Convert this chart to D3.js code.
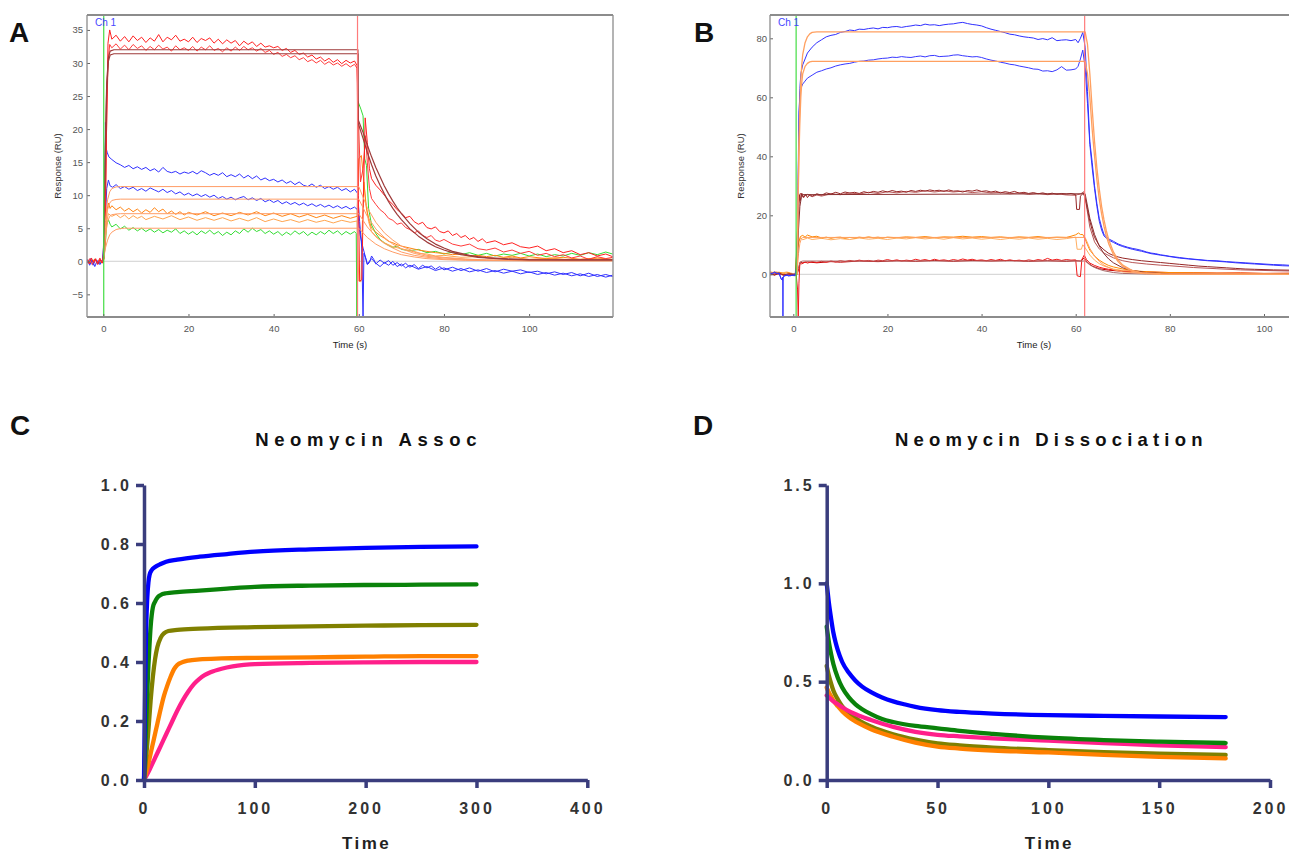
<!DOCTYPE html>
<html>
<head>
<meta charset="utf-8">
<script src="https://cdn.jsdelivr.net/npm/d3@7"></script>
<style>
body{margin:0;background:#fff;}
svg{display:block;font-family:"Liberation Sans",Arial,Helvetica,sans-serif;}
</style>
</head>
<body>
<script>
// ---- panel A : sensorgram traces (time s, response RU)
var aRed1 = [[-3.8,0.2],[-3.3,-0.4],[-2.8,0.5],[-2.3,-0.2],[-1.8,0.4],[-1.3,-0.5],[-0.8,0.3],[-0.3,-0.3],[0.2,0.4],[0.5,6],[0.8,22],[1.1,33],[1.5,35],[2,33.6],[3,34.2],[4,33.3],[5,34],[6,33.2],[7,34.1],[8,33.4],[9,33.9],[10,33.1],[11,33.8],[12,33.3],[13,34.3],[14,33.2],[15,33.9],[16,33.5],[17,34.2],[18,33.3],[19,33.6],[20,33.2],[21,33.9],[22,33.1],[23,33.7],[24,33.4],[25,33.8],[26,33],[27,33.6],[28,32.9],[29,33.5],[30,33],[31,33.4],[32,32.6],[33,33.3],[34,32.8],[35,33.2],[36,32.5],[37,33],[38,32.4],[39,32.6],[40,32.3],[41,32.5],[42,31.9],[43,32.2],[44,31.6],[45,31.9],[46,31.3],[47,31.5],[48,30.9],[49,31.2],[50,30.6],[51,30.9],[52,30.3],[53,30.7],[54,30.1],[55,30.5],[56,29.9],[57,30.4],[58,30],[59,30.3],[59.6,29.6],[59.9,10],[60.2,-3],[60.7,-2.8],[61.1,10],[61.5,21.7],[62,18],[62.5,14],[63,12.5],[64,11.5],[65,10.8],[66,10],[67,9.2],[68,8.6],[69,7.8],[70,7.3],[71,6.6],[72,6.8],[73,6],[74,5.6],[75,5.9],[76,5.1],[77,4.9],[78,5.2],[79,4.5],[80,4.3],[81,4.6],[82,3.9],[83,4.2],[84,3.6],[85,3.9],[86,3.3],[87,3.6],[88,3],[89,3.4],[90,2.8],[92,3.1],[94,2.5],[96,2.8],[98,2.2],[100,2],[102,2.3],[104,1.6],[106,1.9],[108,1.3],[110,1.6],[112,1],[114,1.3],[116,0.8],[118,1.1],[119.6,0.7]];
var aRed2 = [[-3.8,-0.2],[-3.2,0.4],[-2.6,-0.5],[-2,0.3],[-1.4,-0.3],[-0.8,0.5],[-0.3,-0.2],[0.3,2],[0.7,18],[1.1,30],[1.5,32.8],[2,32.3],[3,32.9],[4,32.1],[5,32.7],[6,32],[7,32.8],[8,32.2],[9,32.6],[10,31.9],[11,32.5],[12,32],[13,32.7],[14,32.1],[15,32.4],[16,31.8],[17,32.6],[18,32],[19,32.3],[20,31.9],[21,32.5],[22,31.8],[23,32.4],[24,32],[25,32.6],[26,31.9],[27,32.2],[28,31.7],[29,32.3],[30,31.8],[31,32.4],[32,31.9],[33,32.5],[34,32],[35,32.3],[36,31.8],[37,32.2],[38,31.6],[39,31.9],[40,31.3],[41,31.6],[42,31],[43,31.3],[44,30.8],[45,31.1],[46,30.5],[47,30.8],[48,30.2],[49,30.5],[50,30],[51,30.4],[52,29.8],[53,30.2],[54,29.7],[55,30],[56,29.5],[57,29.9],[58,29.4],[59,29.8],[59.6,29.2],[60,20],[60.4,12],[61,14],[61.6,19],[62,15],[62.5,11],[63,9.5],[64,8.6],[65,7.8],[66,7.3],[67,6.5],[68,6.2],[69,5.6],[70,5.8],[71,5.1],[72,4.8],[73,4.3],[74,4.6],[75,3.9],[76,3.6],[77,3.9],[78,3.2],[79,3],[80,3.3],[82,2.6],[84,2.3],[86,2.6],[88,1.9],[90,1.7],[92,2],[94,1.4],[96,1.7],[98,1.2],[100,1.5],[102,0.9],[104,1.2],[106,0.7],[108,1],[110,0.5],[112,0.8],[114,0.3],[116,0.7],[118,0.4],[119.6,0.6]];
var aBlue1 = [[-3.8,0.3],[-3.2,-0.6],[-2.6,0.2],[-2,-0.8],[-1.4,0.1],[-0.8,-0.5],[-0.2,0.2],[0.3,4],[0.5,21],[0.7,17],[0.9,16.5],[1.3,15.8],[2,15.4],[3,14.9],[4,14.6],[5,14.2],[6,14.5],[7,14],[8,14.3],[9,13.9],[10,14.2],[11,13.7],[12,14],[13,13.5],[14,14.2],[15,13.6],[16,13.4],[17,13.6],[18,13.2],[19,13.5],[20,13.3],[21,13.6],[22,13.2],[23,13.7],[24,13.4],[25,13],[26,13.3],[27,13],[28,13.4],[29,12.8],[30,13.1],[31,12.8],[32,13.2],[33,12.6],[34,13],[35,12.5],[36,12.9],[37,12.3],[38,12.6],[39,12.2],[40,12.4],[41,12],[42,12.3],[43,11.8],[44,12.1],[45,11.6],[46,12],[47,11.5],[48,11.3],[49,11.7],[50,11.2],[51,11.5],[52,11],[53,11.3],[54,10.9],[55,11.2],[56,10.7],[57,11],[58,10.5],[59,10.9],[59.7,10.3],[60.2,6],[60.7,2],[61,-9],[61.2,1.2],[61.6,0.5],[62,-0.5],[62.5,-0.2],[63,0.8],[63.5,0.3],[64,-0.4],[65,0.2],[66,-0.3],[67,0.1],[68,-0.6],[69,-0.2],[70,-0.7],[71,-0.3],[72,-0.9],[73,-0.5],[74,-1.1],[75,-0.6],[76,-1],[77,-0.7],[78,-1.2],[79,-0.8],[80,-1.3],[82,-0.9],[84,-1.4],[86,-1],[88,-1.5],[90,-1.1],[92,-1.6],[94,-1.2],[96,-1.5],[98,-1.3],[100,-1.7],[102,-1.5],[104,-1.9],[106,-1.6],[108,-2],[110,-1.7],[112,-2.2],[114,-1.8],[116,-2.3],[118,-2],[119.6,-2.3]];
var aBlue2 = [[-3.8,-0.3],[-3,0.4],[-2.4,-0.6],[-1.8,0.3],[-1.2,-0.4],[-0.6,0.2],[-0.1,-0.2],[0.4,5],[0.8,11],[1.2,12.3],[1.6,11.4],[2.2,11.2],[3,11.6],[4,11],[5,11.3],[6,10.9],[7,11.2],[8,10.7],[9,11],[10,10.6],[11,11.1],[12,10.8],[13,10.5],[14,10.9],[15,10.4],[16,10.7],[17,10.2],[18,10.5],[19,10],[20,10.3],[21,9.9],[22,10.2],[23,9.8],[24,10.1],[25,9.7],[26,10],[27,9.5],[28,9.8],[29,9.4],[30,9.7],[31,9.3],[32,9.6],[33,9.8],[34,9.3],[35,9.6],[36,9.2],[37,9.5],[38,9],[39,9.3],[40,8.9],[41,9.2],[42,8.7],[43,9],[44,8.6],[45,8.9],[46,8.5],[47,8.8],[48,8.4],[49,8.7],[50,8.3],[51,8.6],[52,8.2],[53,8.5],[54,8.1],[55,8.4],[56,8],[57,8.3],[58,7.9],[59,8.2],[59.7,7.8],[60.3,4],[61,2],[61.5,0.8],[62,-0.4],[63,0.4],[64,-0.3],[65,-0.8],[66,-0.2],[67,-0.6],[68,0],[69,-0.8],[70,-0.4],[71,-1],[72,-0.6],[74,-1.2],[76,-0.8],[78,-1.4],[80,-1],[82,-1.5],[84,-1.1],[86,-1.6],[88,-1.3],[90,-1.7],[92,-1.4],[94,-1.8],[96,-1.5],[98,-1.9],[100,-1.6],[102,-2],[104,-1.7],[106,-2.1],[108,-1.8],[110,-2.2],[112,-1.9],[114,-2.3],[116,-2],[118,-2.4],[119.6,-2.1]];
var aOrange1 = [[-3.8,0.1],[-3,-0.3],[-2,0.3],[-1,-0.2],[0,0.1],[0.4,3],[0.8,7.5],[1.2,8.8],[1.6,8],[2,8.4],[3,7.8],[4,8.2],[5,7.6],[6,8],[7,7.5],[8,7.9],[9,7.3],[10,7.8],[11,7.4],[12,8.1],[13,7.5],[14,7.9],[15,7.2],[16,7.6],[17,7.1],[18,7.5],[19,7],[20,7.4],[22,7],[24,7.5],[26,6.9],[28,7.3],[30,6.9],[32,7.4],[34,7],[36,7.5],[38,6.9],[40,7.3],[42,6.8],[44,7.2],[46,6.7],[48,7.1],[50,6.6],[52,7],[54,6.5],[56,6.9],[58,6.5],[59.6,6.8],[60,15.5],[60.6,16],[61.2,12],[61.8,8],[62.5,6],[63,5],[64,4.4],[65,3.9],[66,3.5],[67,3],[68,2.8],[69,2.5],[70,2.3],[72,2],[74,1.7],[76,1.5],[78,1.3],[80,1.2],[82,1],[84,1.1],[86,0.8],[88,0.9],[90,0.7],[92,0.9],[94,0.6],[96,0.8],[98,0.5],[100,0.7],[104,0.4],[108,0.6],[112,0.3],[116,0.5],[119.6,0.3]];
var aOrange2 = [[-3.8,-0.2],[-2.8,0.3],[-1.8,-0.3],[-0.8,0.2],[0,-0.1],[0.4,2],[0.8,6],[1.2,7.2],[2,6.8],[3,7.1],[4,6.6],[5,7],[6,6.4],[7,6.9],[8,6.5],[9,6.8],[10,6.3],[12,6.8],[14,6.4],[16,6.9],[18,6.3],[20,6.7],[22,6.2],[24,6.6],[26,6.2],[28,6.6],[30,6.1],[32,6.5],[34,6.1],[36,6.6],[38,6],[40,6.4],[42,6],[44,6.3],[46,5.9],[48,6.3],[50,5.9],[52,6.2],[54,5.8],[56,6.2],[58,5.9],[59.6,6.1],[60,-3],[60.5,-3.1],[60.8,5],[61.2,12],[61.6,9],[62.3,6],[63,4.5],[64,3.8],[65,3.2],[66,2.8],[68,2.2],[70,1.9],[72,1.6],[74,1.2],[76,1.1],[78,0.8],[80,0.9],[84,0.6],[88,0.7],[92,0.4],[96,0.6],[100,0.3],[105,0.5],[110,0.2],[115,0.4],[119.6,0.2]];
var aGreen = [[-3.8,0.2],[-3,-0.2],[-2,0.3],[-1,-0.3],[0,0.1],[0.4,2],[0.8,5.5],[1.2,6.3],[1.6,5.6],[2,5.2],[3,5.6],[4,4.9],[5,5.3],[6,4.7],[7,5.1],[8,4.6],[9,5],[10,4.5],[11,4.9],[12,4.4],[13,4.8],[14,4.3],[15,4.7],[16,4.4],[17,4.9],[18,4.2],[19,4.6],[20,4.1],[21,4.5],[22,4],[23,4.6],[24,4.2],[25,4.7],[26,4.1],[27,4.5],[28,3.9],[29,4.4],[30,4],[31,4.6],[32,4.2],[33,4.9],[34,4.4],[35,5],[36,4.5],[37,4.8],[38,4.2],[39,4.6],[40,4.1],[41,4.5],[42,3.9],[43,4.4],[44,4],[45,4.6],[46,4.1],[47,4.5],[48,3.9],[49,4.4],[50,4],[51,4.5],[52,4.1],[53,4.7],[54,4.2],[55,4.6],[56,4],[57,4.5],[58,4.1],[59,4.5],[59.4,4.2],[59.55,-9],[59.8,24.2],[60.5,23],[61,22],[61.4,15.5],[61.8,14.5],[62.3,8],[63,5.5],[64,4.2],[65,3.3],[66,2.8],[67,2.4],[68,2.1],[69,2.3],[70,1.8],[72,1.6],[74,1.8],[76,1.3],[78,1.5],[80,1.1],[82,1.4],[84,1],[86,1.3],[88,0.9],[90,1.2],[92,0.8],[94,1.1],[96,0.9],[98,1.2],[100,0.8],[102,1.1],[104,0.7],[106,1],[108,0.8],[110,1.2],[112,0.9],[114,1.3],[116,1],[118,1.4],[119.6,1.1]];
// panel A : fitted curves
var aFitR1 = [[0,0],[0.4,15],[0.8,27],[1.2,30.8],[1.6,31.8],[2.5,32],[59.8,32],[59.8,21.5],[61,19.5],[62,17.6],[63,15.8],[64,14.2],[65,12.8],[66,11.4],[67,10.2],[68,9.1],[69,8.1],[70,7.2],[72,5.7],[74,4.4],[76,3.4],[78,2.6],[80,2],[82,1.5],[84,1.2],[86,0.9],[88,0.7],[90,0.55],[95,0.35],[100,0.25],[110,0.2],[119.6,0.2]];
var aFitR2 = [[0,0],[0.4,14],[0.8,26],[1.2,30.3],[1.6,31.2],[2.5,31.4],[59.8,31.4],[59.8,21],[61,18.6],[62,16.5],[63,14.6],[64,12.9],[65,11.5],[66,10.2],[67,9],[68,8],[69,7.1],[70,6.3],[72,4.9],[74,3.8],[76,2.9],[78,2.2],[80,1.7],[82,1.3],[84,1],[86,0.8],[88,0.6],[90,0.5],[95,0.3],[100,0.2],[110,0.2],[119.6,0.2]];
var aFitO1 = [[0,0],[0.5,6],[1,9.3],[1.5,10.5],[2,11],[3,11.25],[4,11.3],[60,11.3],[62,8.1],[64,5.9],[66,4.3],[68,3.2],[70,2.3],[73,1.5],[76,0.9],[80,0.6],[85,0.35],[90,0.2],[100,0.1],[119.6,0.1]];
var aFitO2 = [[0,0],[0.5,5],[1,7.8],[1.5,8.8],[2,9.2],[3,9.35],[4,9.4],[60,9.4],[62,6.8],[64,4.9],[66,3.6],[68,2.6],[70,1.9],[73,1.2],[76,0.75],[80,0.5],[85,0.3],[90,0.2],[100,0.1],[119.6,0.1]];
var aFitO3 = [[0,0],[0.5,3.8],[1,6],[1.5,6.8],[2,7.05],[3,7.15],[4,7.2],[60,7.2],[62,5.2],[64,3.7],[66,2.7],[68,2],[70,1.4],[73,0.9],[76,0.6],[80,0.35],[85,0.2],[90,0.15],[100,0.1],[119.6,0.1]];
var aFitO4 = [[0,0],[0.5,2],[1,3.2],[1.5,4],[2,4.4],[3,4.8],[4,4.95],[5,5],[60,5],[62,3.6],[64,2.6],[66,1.9],[68,1.4],[70,1],[73,0.65],[76,0.4],[80,0.25],[85,0.15],[90,0.1],[100,0.05],[119.6,0.05]];
var aInject = [0.1, 59.7];
var aTicksX = [0,20,40,60,80,100];
var aTicksY = [-5,0,5,10,15,20,25,30,35];

// ---- panel B : sensorgram traces
var bBlue1 = [[-4.9,0.5],[-4.4,0.2],[-4,0.8],[-3.5,0.3],[-3,0.5],[-2.6,-1.5],[-2.3,-2],[-2.25,-1],[-2.2,-15],[-2.15,-1],[-1.8,-0.5],[-1.2,-0.3],[-0.6,-0.5],[0,-0.2],[0.5,-0.4],[0.8,2],[1,25],[1.2,50],[1.4,63],[1.6,68],[2,71],[2.5,73],[3,75],[4,77],[5,78.5],[6,79.5],[7,80.5],[8,81],[9,81.3],[10,82],[11,82.3],[12,82.8],[13,82.6],[14,83.1],[15,83],[16,83.3],[17,83.5],[18,83.2],[19,83.7],[20,83.6],[21,83.9],[22,84],[23,83.7],[24,84],[25,84.2],[26,84.5],[27,84.3],[28,84.8],[29,84.5],[30,84.6],[31,84.3],[32,84.6],[33,84.8],[34,84.9],[35,85.2],[36,85.4],[37,85],[38,84.7],[39,84.5],[40,84.2],[41,83.6],[42,83.1],[43,82.7],[44,82.3],[45,81.9],[46,81.4],[47,81.2],[48,80.8],[49,80.5],[50,80.3],[51,80.1],[52,79.6],[53,79.9],[54,79.5],[55,80.2],[56,79.2],[57,79.4],[58,79.5],[59,79.2],[60,79.6],[60.5,78.5],[61,80],[61.5,82],[62,77],[62.5,62],[63,45],[63.5,38],[64,30],[64.5,24],[65,19],[65.5,16],[66,13.5],[67,12],[68,11.2],[69,10.3],[70,9.7],[71,9.2],[72,8.8],[73,8.5],[74,8.1],[75,7.6],[76,7.2],[77,7],[78,6.6],[79,6.4],[80,6.1],[82,5.7],[84,5.3],[86,5],[88,4.7],[90,4.6],[92,4.3],[94,4.1],[96,3.9],[98,3.7],[100,3.5],[102,3.3],[104,3.2],[106,3]];
var bBlue2 = [[-4.9,0.2],[-4,0.6],[-3,0.1],[-2.5,-1.8],[-2,-0.6],[-1.5,-0.2],[-1,-0.6],[-0.4,-0.3],[0.3,-0.5],[0.8,3],[1,30],[1.2,55],[1.4,61],[1.6,63],[2,64.5],[2.5,65.5],[3,66.5],[4,67.5],[5,68.5],[6,69],[7,69.6],[8,70],[9,70.6],[10,71],[11,71.3],[12,71.5],[13,71.9],[14,72.2],[15,72.3],[16,72.6],[17,72.7],[18,73],[19,73.2],[20,73.3],[21,73.6],[22,73.5],[23,73.8],[24,73.6],[25,73.5],[26,73.8],[27,74],[28,73.7],[29,74.1],[30,74.2],[31,73.8],[32,73.9],[33,74],[34,74.3],[35,74.4],[36,74.1],[37,73.9],[38,73.7],[39,73.8],[40,73.5],[41,73],[42,72.6],[43,72.3],[44,71.9],[45,71.6],[46,71.2],[47,71],[48,70.6],[49,70.3],[50,70],[51,69.6],[52,69.5],[53,68.9],[54,69],[55,68.7],[56,69.3],[57,70.4],[58,69.2],[59,69.3],[60,69.6],[60.5,70.5],[61,73],[61.5,76],[62,70],[62.5,58],[63,44],[63.5,36],[64,29],[64.5,23],[65,18],[65.5,15],[66,13],[67,11.6],[68,10.8],[69,10],[70,9.4],[72,8.5],[74,7.8],[76,7],[78,6.5],[80,6],[82,5.5],[84,5.2],[86,4.9],[88,4.6],[90,4.4],[92,4.2],[94,3.9],[96,3.7],[98,3.5],[100,3.3],[102,3.1],[104,2.9],[106,2.8]];
var bBrown1 = [[-4.9,0.3],[-4,-0.3],[-3,0.4],[-2,-0.2],[-1,0.2],[0,-0.1],[0.5,0],[0.7,8],[0.9,15],[1.1,22],[1.3,27],[1.5,25],[1.8,27.5],[2.2,26],[2.6,27.2],[3,26],[3.5,27],[4,26.5],[5,27.3],[6,26.8],[7,27.6],[8,27.2],[9,27.8],[10,27.3],[11,27.9],[12,27.5],[13,27.8],[14,27.4],[15,28],[16,27.6],[17,28.1],[18,27.8],[19,28.3],[20,27.9],[21,28.4],[22,28],[23,28.2],[24,27.8],[25,28.4],[26,28.1],[27,28.5],[28,28.2],[29,28.6],[30,28.3],[31,28.5],[32,28.1],[33,28.6],[34,28.2],[35,28.3],[36,27.9],[37,28.4],[38,28.2],[39,28.6],[40,28.1],[41,28.3],[42,27.9],[43,28.2],[44,27.6],[45,28],[46,27.7],[47,28.1],[48,27.5],[49,27.8],[50,27.4],[51,27.7],[52,27.3],[53,27.6],[54,27.2],[55,27.5],[56,27.1],[57,27.4],[58,27.2],[59,27.4],[60,27],[60.2,22],[60.8,22],[61,26.5],[61.6,27.5],[62,26],[62.5,22],[63,18],[63.5,15],[64,12.5],[65,9.8],[66,8.3],[67,7.1],[68,6.4],[69,5.9],[70,5.5],[72,5],[74,4.6],[76,4.3],[78,4],[80,3.7],[82,3.4],[84,3.1],[86,2.8],[88,2.6],[90,2.4],[92,2.2],[94,2],[96,1.8],[98,1.7],[100,1.6],[102,1.5],[106,1.4]];
var bBrown2 = [[-4.9,-0.2],[-3.5,0.3],[-2,-0.3],[-0.5,0.2],[0.6,0],[0.9,12],[1.2,24],[1.5,27.5],[2,26.2],[3,27.1],[4,26.3],[5,26.9],[6,26.5],[8,27.3],[10,27],[12,27.6],[14,27.2],[16,27.8],[18,27.4],[20,28],[22,27.6],[24,28.1],[26,27.8],[28,28.3],[30,27.9],[32,28.3],[34,27.9],[36,28.2],[38,27.7],[40,28],[42,27.6],[44,27.8],[46,27.3],[48,27.6],[50,27.1],[52,27.4],[54,27],[56,27.3],[58,26.9],[60,26.8],[60.3,27],[61,27.2],[61.7,28],[62.2,24],[63,16],[64,11],[65,8.6],[66,7.2],[68,5.6],[70,4.6],[72,4],[75,3.5],[78,3.1],[80,2.9],[85,2.3],[90,1.9],[95,1.5],[100,1.3],[106,1.1]];
var bOrange1 = [[-4.9,0.8],[-4,0.5],[-3,0.7],[-2,0.3],[-1,0.6],[0,-0.3],[0.4,-0.4],[0.6,5],[0.9,9],[1.2,11],[1.5,12.8],[2,13.2],[2.5,12.6],[3,13.3],[4,12.7],[5,12.9],[6,12.3],[7,12.6],[8,12.2],[9,12.5],[10,12.6],[11,12.2],[12,12.5],[13,12.3],[14,12.6],[15,12.4],[16,12.7],[17,12.4],[18,12.6],[19,12.3],[20,12.6],[22,12.4],[24,12.7],[26,12.5],[28,12.8],[30,12.4],[32,12.7],[34,12.6],[36,12.9],[38,12.6],[40,12.8],[42,12.5],[44,12.7],[46,12.4],[48,12.7],[50,12.5],[52,12.8],[54,12.4],[56,12.6],[58,12.5],[59,12.9],[60,13.4],[60.6,14],[61,13.5],[61.5,13.5],[62,12],[62.5,10],[63,8.2],[64,6.2],[65,4.8],[66,3.8],[67,3],[68,2.5],[70,1.8],[72,1.3],[74,1],[76,0.8],[80,0.6],[85,0.5],[90,0.4],[95,0.4],[100,0.3],[106,0.3]];
var bOrange2 = [[-4.9,0.4],[-3.8,0.9],[-2.6,0.4],[-1.4,0.8],[-0.2,0.3],[0.5,0],[0.8,6],[1.2,11.5],[1.6,12.4],[2,11.7],[3,12.3],[4,11.8],[6,12.2],[8,11.7],[10,12.1],[12,11.8],[14,12.3],[16,11.9],[18,12.2],[20,11.8],[22,12.3],[24,12],[26,12.4],[28,12],[30,12.3],[32,11.9],[34,12.4],[36,12],[38,12.3],[40,11.9],[42,12.2],[44,11.8],[46,12.2],[48,11.9],[50,12.3],[52,11.9],[54,12.2],[56,11.8],[58,12.1],[60,12.6],[60.3,8.5],[61.2,8.5],[61.5,10],[62,9],[63,6.5],[64,4.8],[65,3.6],[66,2.8],[68,1.8],[70,1.3],[74,0.8],[80,0.5],[90,0.3],[106,0.2]];
var bRed1 = [[-4.9,0.2],[-4,-0.2],[-3,0.3],[-2,-0.3],[-1,0.1],[0,-0.2],[0.6,0.2],[0.9,-5],[1.05,-15],[1.2,-3],[1.4,4],[1.8,3.5],[2.5,4.2],[3,3.8],[4,4.3],[5,4],[6,4.4],[7,4.1],[8,4.5],[9,4.2],[10,4.6],[11,4.3],[12,4.7],[13,4.4],[14,4.8],[15,4.5],[16,4.7],[17,4.4],[18,4.8],[19,4.6],[20,5],[21,4.6],[22,4.9],[23,4.5],[24,4.8],[25,4.6],[26,5.1],[27,4.7],[28,5],[29,4.6],[30,5.1],[31,4.7],[32,4.9],[33,4.6],[34,5],[35,4.7],[36,5.2],[37,4.8],[38,5.1],[39,4.7],[40,4.9],[41,4.6],[42,5],[43,4.7],[44,5.1],[45,4.6],[46,4.9],[47,4.6],[48,4.8],[49,4.5],[50,4.9],[51,4.6],[52,5],[53,4.7],[54,5.4],[55,4.8],[56,5.1],[57,4.7],[58,5],[59,4.8],[60,4.9],[60.3,-0.5],[61,-0.8],[61.3,5],[61.8,6.5],[62.3,5],[63,3.8],[64,3],[65,2.4],[66,2],[67,1.7],[68,1.5],[70,1.2],[72,1],[75,0.8],[80,0.6],[85,0.5],[90,0.4],[95,0.5],[100,0.3],[106,0.4]];
var bRed2 = [[-4.9,-0.1],[-3.5,0.2],[-2,-0.2],[-0.5,0.1],[0.8,0],[1.2,2],[1.5,4.2],[2,3.9],[3,4.2],[5,3.9],[8,4.3],[10,4.1],[14,4.5],[18,4.3],[22,4.6],[26,4.4],[30,4.7],[34,4.4],[38,4.7],[42,4.5],[46,4.7],[50,4.4],[54,4.6],[58,4.4],[60,4.6],[61,4.5],[61.8,5.5],[62.5,4],[63.5,2.8],[65,1.9],[67,1.4],[70,1],[75,0.7],[80,0.5],[90,0.3],[106,0.2]];
// panel B : fitted curves
var bFitHi = [[0.8,0],[1,25],[1.2,45],[1.4,58],[1.6,66],[1.8,71],[2,74.5],[2.5,78.5],[3,80.5],[3.5,81.5],[4,82],[5,82.2],[62,82.2],[62.5,78],[63,68],[63.5,56],[64,45],[64.5,36],[65,29],[65.5,23],[66,18.5],[66.5,14.8],[67,11.8],[68,7.6],[69,4.9],[70,3.1],[72,1.3],[74,0.5],[78,0.1],[106,0]];
var bFitLo = [[0.8,0],[1,22],[1.2,40],[1.4,52],[1.6,60],[1.8,65],[2,68],[2.5,70.5],[3,71.5],[3.5,72],[4,72.2],[62,72.2],[62.5,68],[63,60],[63.5,49],[64,40],[64.5,32],[65,25.5],[65.5,20.5],[66,16.3],[66.5,13],[67,10.4],[68,6.7],[69,4.3],[70,2.7],[72,1.1],[74,0.45],[78,0.1],[106,0]];
var bFitBrown = [[0.8,0],[1.1,15],[1.4,23],[1.7,26],[2,27],[62,27.3],[63,19],[64,13.5],[65,9.6],[66,7],[67,5.2],[68,3.9],[70,2.2],[72,1.3],[75,0.6],[80,0.2],[106,0]];
var bFitOrange = [[0.8,0],[1.1,7],[1.4,10.5],[1.7,12],[2,12.5],[62,12.5],[63,8.8],[64,6.2],[65,4.4],[66,3.1],[68,1.6],[70,0.8],[75,0.2],[106,0]];
var bFitRed = [[0.8,0],[1.2,3],[1.6,4.3],[2,4.5],[62,4.5],[63,3.2],[64,2.3],[65,1.7],[66,1.2],[68,0.6],[70,0.3],[75,0.1],[106,0]];
var bInject = [0.6, 61.9];
var bTicksX = [0,20,40,60,80,100];
var bTicksY = [0,20,40,60,80];

// ---- panel C : Neomycin Assoc (time, normalised response)
var cBlue = [[0,0],[0.5,0.15],[1,0.3],[1.5,0.42],[2,0.52],[3,0.62],[4,0.67],[5,0.695],[7,0.712],[10,0.722],[15,0.732],[20,0.74],[30,0.747],[50,0.757],[75,0.766],[100,0.774],[150,0.782],[200,0.787],[250,0.79],[300,0.792]];
var cGreen = [[0,0],[1,0.1],[2,0.2],[3,0.3],[4,0.39],[5,0.46],[6,0.52],[7,0.56],[8,0.585],[10,0.605],[12,0.618],[15,0.627],[20,0.633],[30,0.637],[50,0.642],[75,0.649],[100,0.655],[150,0.659],[200,0.661],[250,0.662],[300,0.663]];
var cOlive = [[0,0],[2,0.08],[4,0.17],[6,0.27],[8,0.35],[10,0.41],[12,0.45],[15,0.482],[18,0.497],[22,0.505],[30,0.509],[50,0.513],[100,0.518],[150,0.521],[200,0.523],[250,0.525],[300,0.526]];
var cOrange = [[0,0],[3,0.04],[6,0.09],[9,0.14],[12,0.19],[15,0.24],[18,0.285],[21,0.32],[24,0.35],[27,0.375],[30,0.39],[35,0.4],[40,0.405],[50,0.409],[70,0.412],[100,0.414],[150,0.416],[200,0.418],[250,0.42],[300,0.42]];
var cPink = [[0,0],[5,0.035],[10,0.075],[15,0.115],[20,0.155],[25,0.195],[30,0.235],[35,0.27],[40,0.3],[45,0.325],[50,0.343],[55,0.356],[60,0.365],[70,0.377],[80,0.385],[90,0.39],[100,0.393],[150,0.397],[200,0.399],[250,0.4],[300,0.4]];
var cTicksX = [0,100,200,300,400];
var cTicksY = [0,0.2,0.4,0.6,0.8,1.0];

// ---- panel D : Neomycin Dissociation
var dBlue = [[0,1],[1,0.9],[2,0.82],[3,0.75],[4,0.7],[5,0.66],[7,0.6],[10,0.545],[13,0.505],[16,0.475],[20,0.447],[25,0.42],[30,0.4],[35,0.385],[40,0.372],[50,0.355],[60,0.346],[75,0.338],[100,0.33],[125,0.326],[150,0.323],[180,0.32]];
var dGreen = [[0,0.78],[1,0.7],[2,0.64],[3,0.59],[5,0.52],[7,0.47],[10,0.42],[13,0.385],[16,0.36],[20,0.335],[25,0.31],[30,0.295],[40,0.275],[50,0.263],[60,0.25],[75,0.235],[100,0.215],[125,0.203],[150,0.195],[180,0.188]];
var dOlive = [[0,0.58],[1,0.53],[2,0.49],[3,0.455],[5,0.41],[7,0.375],[10,0.34],[15,0.3],[20,0.272],[30,0.232],[40,0.205],[50,0.186],[60,0.176],[75,0.165],[100,0.152],[125,0.142],[150,0.134],[180,0.127]];
var dOrange = [[0,0.47],[1,0.445],[2,0.425],[3,0.405],[5,0.375],[7,0.35],[10,0.32],[15,0.285],[20,0.258],[30,0.22],[40,0.19],[50,0.17],[60,0.16],[75,0.15],[100,0.14],[125,0.128],[150,0.118],[180,0.11]];
var dPink = [[0,0.43],[1,0.42],[2,0.41],[3,0.4],[5,0.385],[7,0.37],[10,0.35],[15,0.325],[20,0.305],[30,0.27],[40,0.245],[50,0.23],[60,0.222],[75,0.212],[100,0.2],[125,0.188],[150,0.176],[180,0.167]];
var dTicksX = [0,50,100,150,200];
var dTicksY = [0,0.5,1.0,1.5];

var width = 1289;
var height = 852;
var svg = d3.select("body")
            .append("svg")
            .attr("width",width)
            .attr("height",height);

function letter(t,x,y){
  svg.append("text")
     .attr("x",x).attr("y",y)
     .attr("font-size",28)
     .attr("font-weight","bold")
     .attr("fill","#111")
     .text(t);
}

function sensorgram(cfg){
  var box = cfg.box; // left, top, right, bottom
  var xScale = d3.scaleLinear().domain(cfg.xDomain).range([box[0],box[2]]);
  var yScale = d3.scaleLinear().domain(cfg.yDomain).range([box[3],box[1]]);
  var g = svg.append("g");

  g.append("clipPath")
   .attr("id",cfg.id)
   .append("rect")
   .attr("x",box[0]).attr("y",box[1])
   .attr("width",box[2]-box[0]).attr("height",box[3]-box[1]);

  var plot = g.append("g").attr("clip-path","url(#"+cfg.id+")");

  plot.append("line")
      .attr("x1",xScale(0)).attr("x2",box[2])
      .attr("y1",yScale(0)).attr("y2",yScale(0))
      .attr("stroke","#cfcfcf");

  var line = d3.line()
               .x(function(d){return xScale(d[0]);})
               .y(function(d){return yScale(d[1]);});

  cfg.traces.forEach(function(s){
    plot.append("path")
        .datum(s.data)
        .attr("d",line)
        .attr("fill","none")
        .attr("stroke",s.color)
        .attr("stroke-width",s.w || 1)
        .attr("stroke-linejoin","round");
  });

  // injection start / stop markers
  cfg.inject.forEach(function(t,i){
    plot.append("line")
        .attr("x1",xScale(t)).attr("x2",xScale(t))
        .attr("y1",box[1]).attr("y2",box[3])
        .attr("stroke",i==0 ? "#44dd44" : "#ff7b7b")
        .attr("stroke-width",1.2);
  });

  var xAxis = g.append("g")
               .attr("transform","translate(0,"+box[3]+")")
               .call(d3.axisBottom(xScale).tickValues(cfg.xTicks).tickSizeInner(-3).tickSizeOuter(0).tickPadding(8));
  var yAxis = g.append("g")
               .attr("transform","translate("+box[0]+",0)")
               .call(d3.axisLeft(yScale).tickValues(cfg.yTicks).tickSizeInner(-3).tickSizeOuter(0).tickPadding(cfg.yPad));
  [xAxis,yAxis].forEach(function(a){
    a.select(".domain").remove();
    a.selectAll("line").attr("stroke","#666");
    a.selectAll("text")
     .attr("font-size",9.5)
     .attr("fill","#555")
     .attr("font-family","Liberation Sans, Arial, sans-serif");
  });

  // frame
  g.append("line").attr("x1",box[0]).attr("x2",box[2]).attr("y1",box[1]).attr("y2",box[1]).attr("stroke","#8c8c8c").attr("stroke-width",2);
  g.append("line").attr("x1",box[0]).attr("x2",box[2]).attr("y1",box[3]).attr("y2",box[3]).attr("stroke","#8c8c8c").attr("stroke-width",2);
  g.append("line").attr("x1",box[0]).attr("x2",box[0]).attr("y1",box[1]).attr("y2",box[3]).attr("stroke","#8c8c8c").attr("stroke-width",1.3);
  g.append("line").attr("x1",box[2]).attr("x2",box[2]).attr("y1",box[1]).attr("y2",box[3]).attr("stroke","#8c8c8c").attr("stroke-width",1.3);

  g.append("text")
   .attr("x",box[0]+8).attr("y",box[1]+11)
   .attr("font-size",10).attr("fill","#4646ff")
   .text("Ch 1");

  g.append("text")
   .attr("x",cfg.xLabelX).attr("y",348)
   .attr("text-anchor","middle")
   .attr("font-size",9.5).attr("fill","#222")
   .text("Time (s)");

  g.append("text")
   .attr("transform","translate("+cfg.yLabelX+",166) rotate(-90)")
   .attr("text-anchor","middle")
   .attr("font-size",9.5).attr("fill","#333")
   .text("Response (RU)");
}

function kinetics(cfg){
  var axisColor = "#3a3d7d";
  var xScale = d3.scaleLinear().domain(cfg.xDomain).range([cfg.x0,cfg.x1]);
  var yScale = d3.scaleLinear().domain(cfg.yDomain).range([780,485]);
  var g = svg.append("g");

  var line = d3.line()
               .curve(d3.curveMonotoneX)
               .x(function(d){return xScale(d[0]);})
               .y(function(d){return yScale(d[1]);});

  cfg.series.forEach(function(s){
    g.append("path")
     .datum(s.data)
     .attr("d",line)
     .attr("fill","none")
     .attr("stroke",s.color)
     .attr("stroke-width",4.3)
     .attr("stroke-linejoin","round")
     .attr("stroke-linecap","round");
  });

  var xAxis = g.append("g")
               .attr("transform","translate(0,780)")
               .call(d3.axisBottom(xScale).tickValues(cfg.xTicks).tickSize(8).tickSizeOuter(0).tickPadding(15).tickFormat(d3.format("d")));
  var yAxis = g.append("g")
               .attr("transform","translate("+cfg.x0+",0)")
               .call(d3.axisLeft(yScale).tickValues(cfg.yTicks).tickSize(8).tickSizeOuter(0).tickPadding(4).tickFormat(d3.format(".1f")));
  [xAxis,yAxis].forEach(function(a){
    a.select(".domain").attr("stroke",axisColor).attr("stroke-width",3.5);
    a.selectAll(".tick line").attr("stroke",axisColor).attr("stroke-width",3.5);
    a.selectAll("text")
     .attr("font-size",16)
     .attr("font-weight","bold")
     .attr("fill","#333")
     .attr("letter-spacing",3)
     .attr("font-family","Liberation Sans, Arial, sans-serif");
  });

  g.append("text")
   .attr("x",(cfg.x0+cfg.x1)/2+3).attr("y",446)
   .attr("text-anchor","middle")
   .attr("font-size",18.5).attr("font-weight","bold")
   .attr("letter-spacing",cfg.spacing).attr("fill","#111")
   .text(cfg.title);

  g.append("text")
   .attr("x",(cfg.x0+cfg.x1)/2+1).attr("y",849)
   .attr("text-anchor","middle")
   .attr("font-size",17).attr("font-weight","bold")
   .attr("letter-spacing",2.5).attr("fill","#222")
   .text("Time");
}

sensorgram({
  id:"clipA", box:[87,15,613,317],
  xDomain:[-3.83,119.7], yDomain:[-8.43,37.26],
  xTicks:aTicksX, yTicks:aTicksY, yPad:4,
  inject:aInject, xLabelX:350, yLabelX:61,
  traces:[
    {data:aGreen, color:"#33dd33"},
    {data:aOrange2, color:"#ffa54f"},
    {data:aOrange1, color:"#ff8412"},
    {data:aBlue2, color:"#3434ff"},
    {data:aBlue1, color:"#3030ff"},
    {data:aRed2, color:"#ff3b3b"},
    {data:aRed1, color:"#ff2020"},
    {data:aFitO1, color:"#ff9d66"},
    {data:aFitO2, color:"#ff9d66"},
    {data:aFitO3, color:"#ff9d66"},
    {data:aFitO4, color:"#ff9d66"},
    {data:aFitR1, color:"#9e3a3a", w:1.2},
    {data:aFitR2, color:"#9e3a3a", w:1.2}
  ]
});

sensorgram({
  id:"clipB", box:[770,15,1292,317],
  xDomain:[-4.95,105.95], yDomain:[-14.47,87.9],
  xTicks:bTicksX, yTicks:bTicksY, yPad:3,
  inject:bInject, xLabelX:1034, yLabelX:744,
  traces:[
    {data:bRed2, color:"#c00000"},
    {data:bRed1, color:"#f01818"},
    {data:bOrange2, color:"#ffae60"},
    {data:bOrange1, color:"#ff8800"},
    {data:bBrown2, color:"#b85656"},
    {data:bBrown1, color:"#962626"},
    {data:bBlue2, color:"#3838ff"},
    {data:bBlue1, color:"#3030ff"},
    {data:bFitRed, color:"#a86a6a"},
    {data:bFitOrange, color:"#ffa060"},
    {data:bFitBrown, color:"#8a3030"},
    {data:bFitLo, color:"#ffa060", w:1.3},
    {data:bFitHi, color:"#ffa060", w:1.3}
  ]
});

kinetics({
  title:"Neomycin Assoc", x0:144, x1:587.3, spacing:5.6,
  xDomain:[0,400], yDomain:[0,1],
  xTicks:cTicksX, yTicks:cTicksY,
  series:[
    {data:cPink, color:"#ff1f8a"},
    {data:cOrange, color:"#ff8000"},
    {data:cOlive, color:"#808000"},
    {data:cGreen, color:"#0a820a"},
    {data:cBlue, color:"#0000ff"}
  ]
});

kinetics({
  title:"Neomycin Dissociation", x0:826.7, x1:1270, spacing:5.2,
  xDomain:[0,200], yDomain:[0,1.5],
  xTicks:dTicksX, yTicks:dTicksY,
  series:[
    {data:dOlive, color:"#808000"},
    {data:dOrange, color:"#ff8000"},
    {data:dPink, color:"#ff1f8a"},
    {data:dGreen, color:"#0a820a"},
    {data:dBlue, color:"#0000ff"}
  ]
});

letter("A",9,42);
letter("B",694,42);
letter("C",10,435);
letter("D",693,435);
</script>
</body>
</html>
